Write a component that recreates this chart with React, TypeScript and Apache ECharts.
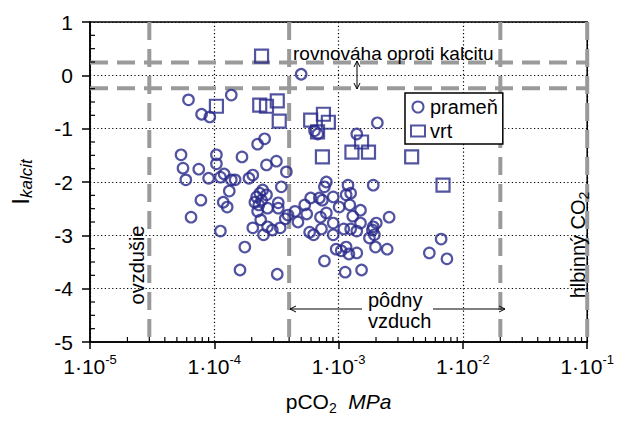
import React, { useEffect, useRef } from "react";
import * as echarts from "echarts";

const FONT = '"Liberation Sans", Arial, Helvetica, sans-serif';
const BLUE = "#28298a";
const GRAY = "#9a9a9a";

// pCO2 [MPa], I_kalcit
const pramenPoints: [number, number][] = [
  [5.0e-4, 0.02], [6.2e-5, -0.46], [1.37e-4, -0.37], [7.9e-5, -0.73], [9.2e-5, -0.78],
  [2.23e-4, -1.29], [2.54e-4, -1.19], [2.05e-3, -0.89], [1.4e-3, -1.1], [6.4e-4, -1.04],
  [6.8e-4, -1.1], [5.4e-5, -1.49], [1.04e-4, -1.49], [1.04e-4, -1.66], [1.67e-4, -1.53],
  [5.6e-5, -1.74], [7.5e-5, -1.76], [5.9e-5, -1.96], [9.0e-5, -1.93], [1.12e-4, -1.91],
  [1.2e-4, -1.85], [1.37e-4, -1.96], [1.47e-4, -1.96], [1.9e-4, -1.93], [2.04e-4, -1.87],
  [2.63e-4, -1.68], [3.16e-4, -1.61], [3.8e-4, -1.81], [3.46e-4, -2.09], [1.32e-4, -2.17],
  [7.8e-5, -2.34], [1.18e-4, -2.38], [1.27e-4, -2.47], [6.5e-5, -2.66], [1.12e-4, -2.92],
  [1.76e-4, -3.22], [1.61e-4, -3.65], [3.21e-4, -3.73], [2.12e-4, -2.38], [2.19e-4, -2.28],
  [2.32e-4, -2.21], [2.45e-4, -2.15], [2.63e-4, -2.24], [2.4e-4, -2.34], [2.28e-4, -2.43],
  [2.23e-4, -2.55], [2.68e-4, -2.49], [3.27e-4, -2.39], [3.27e-4, -2.49], [2.36e-4, -2.71],
  [3.72e-4, -2.69], [3.92e-4, -2.62], [4.46e-4, -2.55], [4.71e-4, -2.75], [5.34e-4, -2.43],
  [2.04e-4, -2.86], [2.49e-4, -2.99], [2.68e-4, -2.84], [2.93e-4, -2.9], [3.39e-4, -2.86],
  [5.54e-4, -2.6], [7.97e-4, -2.0], [7.69e-4, -2.09], [1.19e-3, -2.06], [1.9e-3, -2.06],
  [5.96e-4, -2.3], [7.0e-4, -2.3], [7.4e-4, -2.34], [9.05e-4, -2.28], [1.15e-3, -2.24],
  [1.25e-3, -2.21], [1.01e-3, -2.47], [1.23e-3, -2.43], [1.5e-3, -2.53], [7.15e-4, -2.66],
  [7.97e-4, -2.58], [1.3e-3, -2.64], [9.05e-4, -2.77], [1.5e-3, -2.77], [2.01e-3, -2.77],
  [1.9e-3, -2.84], [2.55e-3, -2.66], [5.85e-4, -2.94], [6.29e-4, -2.99], [7.28e-4, -2.88],
  [9.05e-4, -2.99], [1.1e-3, -2.88], [1.25e-3, -2.88], [1.4e-3, -2.92], [1.87e-3, -2.9],
  [1.94e-3, -2.99], [1.77e-3, -3.05], [9.56e-4, -3.26], [1.05e-3, -3.29], [1.15e-3, -3.22],
  [1.21e-3, -3.35], [1.4e-3, -3.33], [1.98e-3, -3.22], [2.46e-3, -3.26], [7.69e-4, -3.48],
  [1.13e-3, -3.69], [1.53e-3, -3.65], [6.68e-3, -3.07], [5.37e-3, -3.33], [7.44e-3, -3.44],
];

const vrtPoints: [number, number][] = [
  [2.4e-4, 0.36], [1.04e-4, -0.58], [2.32e-4, -0.56], [2.63e-4, -0.58], [3.21e-4, -0.48],
  [3.33e-4, -0.86], [5.96e-4, -0.84], [7.55e-4, -0.73], [8.27e-4, -0.88], [6.77e-4, -1.06],
  [7.41e-4, -1.53], [1.53e-3, -1.25], [1.28e-3, -1.44], [1.74e-3, -1.44], [3.87e-3, -1.53],
  [6.92e-3, -2.06],
];

const xDecadeExponents = [-5, -4, -3, -2];
const minorMantissas = [2, 3, 4, 5, 6, 7, 8, 9];
const yMinorSteps = [0.25, 0.5, 0.75];
const yRange = [-5, 1];
const xRange = [1e-5, 1e-1];
const calciteBand = [0.24, -0.24];
const pco2Limits = [3e-5, 4e-4, 2e-2, 1e-1];

const xMinorTicks: number[] = [];
xDecadeExponents.forEach((e) =>
  minorMantissas.forEach((m) => xMinorTicks.push(m * Math.pow(10, e)))
);
const yMinorTicks: number[] = [];
for (let v = yRange[0]; v < yRange[1]; v++) yMinorSteps.forEach((s) => yMinorTicks.push(v + s));

const dashStyle = { stroke: GRAY, lineWidth: 4, lineDash: [18, 9], fill: null };

function arrowHead(x: number, y: number, dir: "l" | "r" | "u" | "d") {
  const s = 6, w = 3;
  let pts: number[][];
  if (dir === "l") pts = [[x + s, y - w], [x, y], [x + s, y + w]];
  else if (dir === "r") pts = [[x - s, y - w], [x, y], [x - s, y + w]];
  else if (dir === "u") pts = [[x - w, y + s], [x, y], [x + w, y + s]];
  else pts = [[x - w, y - s], [x, y], [x + w, y - s]];
  return { type: "polyline", shape: { points: pts }, style: { stroke: "#000", lineWidth: 1, fill: null }, silent: true, z: 20 };
}

export default function App() {
  const ref = useRef<HTMLDivElement>(null);
  useEffect(() => {
    const chart = echarts.init(ref.current!, null, { renderer: "svg" });
    const option: any = {
      animation: false,
      backgroundColor: "#fff",
      textStyle: { fontFamily: FONT },
      grid: { left: 86, right: 24, top: 22, bottom: 80, show: true, borderColor: "#000", borderWidth: 1.5, backgroundColor: "rgba(0,0,0,0)" },
      legend: {
        data: ["prameň", "vrt"],
        orient: "vertical",
        left: 405,
        top: 93,
        itemWidth: 14,
        itemHeight: 11,
        itemGap: 4,
        padding: [4, 5, 3, 5],
        backgroundColor: "#fff",
        borderColor: "#000",
        borderWidth: 1.5,
        borderRadius: 0,
        selectedMode: false,
        textStyle: { fontSize: 20, fontFamily: FONT, color: "#000" },
        z: 10,
      },
      xAxis: {
        type: "log",
        logBase: 10,
        min: xRange[0],
        max: xRange[1],
        axisLine: { show: true, onZero: false, lineStyle: { color: "#000", width: 1.5 } },
        axisTick: { show: true, inside: false, length: 7, lineStyle: { color: "#000", width: 1.5 } },
        splitLine: { show: true, lineStyle: { color: "#000", width: 1.2, type: [1.2, 2.5] } },
        axisLabel: {
          margin: 11,
          color: "#000",
          formatter: (v: number) => `{a|1·10}{b|${Math.round(Math.log10(v))}}`,
          rich: {
            a: { fontSize: 21, fontFamily: FONT, color: "#000", lineHeight: 26, verticalAlign: "middle" },
            b: { fontSize: 13, fontFamily: FONT, color: "#000", lineHeight: 13, verticalAlign: "top" },
          },
        },
        name: "{a|pCO}{b|2}{a|  }{c|MPa}",
        nameLocation: "middle",
        nameGap: 45,
        nameTextStyle: {
          color: "#000",
          rich: {
            a: { fontSize: 21, fontFamily: FONT, color: "#000", lineHeight: 28, verticalAlign: "middle" },
            b: { fontSize: 14, fontFamily: FONT, color: "#000", lineHeight: 15, verticalAlign: "bottom" },
            c: { fontSize: 21, fontFamily: FONT, color: "#000", fontStyle: "italic", lineHeight: 28, verticalAlign: "middle" },
          },
        },
      },
      yAxis: {
        type: "value",
        min: yRange[0],
        max: yRange[1],
        interval: 1,
        axisLine: { show: true, onZero: false, lineStyle: { color: "#000", width: 1.5 } },
        axisTick: { show: true, inside: false, length: 8, lineStyle: { color: "#000", width: 1.5 } },
        splitLine: { show: true, lineStyle: { color: "#000", width: 1.2, type: [1.2, 2.5] } },
        axisLabel: { margin: 17, fontSize: 21, fontFamily: FONT, color: "#000" },
        name: "{i|I}{s|kalcit}",
        nameLocation: "middle",
        nameRotate: 90,
        nameGap: 55,
        nameTextStyle: {
          color: "#000",
          rich: {
            i: { fontSize: 24, fontFamily: FONT, color: "#000", lineHeight: 30, verticalAlign: "middle" },
            s: { fontSize: 17, fontFamily: FONT, color: "#000", fontStyle: "italic", lineHeight: 17, verticalAlign: "bottom" },
          },
        },
      },
      series: [
        {
          name: "pco2Limits",
          type: "custom",
          coordinateSystem: "cartesian2d",
          silent: true,
          z: 1,
          clip: false,
          data: pco2Limits.map((x) => [x, 0]),
          renderItem: (_p: any, api: any) => {
            const a = api.coord([api.value(0), yRange[1]]);
            const b = api.coord([api.value(0), yRange[0]]);
            return { type: "line", shape: { x1: a[0], y1: a[1], x2: b[0], y2: b[1] }, style: dashStyle };
          },
        },
        {
          name: "calciteBand",
          type: "custom",
          coordinateSystem: "cartesian2d",
          silent: true,
          z: 1,
          clip: false,
          data: calciteBand.map((y) => [xRange[0], y]),
          renderItem: (_p: any, api: any) => {
            const a = api.coord([xRange[0], api.value(1)]);
            const b = api.coord([xRange[1], api.value(1)]);
            return { type: "line", shape: { x1: a[0], y1: a[1], x2: b[0], y2: b[1] }, style: dashStyle };
          },
        },
        {
          name: "xMinor",
          type: "custom",
          coordinateSystem: "cartesian2d",
          silent: true,
          z: 5,
          clip: false,
          data: xMinorTicks.map((v) => [v, yRange[0]]),
          renderItem: (_p: any, api: any) => {
            const p = api.coord([api.value(0), api.value(1)]);
            return { type: "line", shape: { x1: p[0], y1: p[1], x2: p[0], y2: p[1] - 5 }, style: { stroke: "#000", lineWidth: 1.2 } };
          },
        },
        {
          name: "yMinor",
          type: "custom",
          coordinateSystem: "cartesian2d",
          silent: true,
          z: 5,
          clip: false,
          data: yMinorTicks.map((v) => [xRange[0], v]),
          renderItem: (_p: any, api: any) => {
            const p = api.coord([api.value(0), api.value(1)]);
            return { type: "line", shape: { x1: p[0], y1: p[1], x2: p[0] + 5, y2: p[1] }, style: { stroke: "#000", lineWidth: 1.2 } };
          },
        },
        {
          name: "prameň",
          type: "scatter",
          data: pramenPoints,
          symbol: "circle",
          symbolSize: 10.5,
          z: 3,
          itemStyle: { color: "rgba(0,0,0,0)", borderColor: BLUE, borderWidth: 2.2 },
          emphasis: { disabled: true },
        },
        {
          name: "vrt",
          type: "scatter",
          data: vrtPoints,
          symbol: "rect",
          symbolSize: 13,
          z: 3,
          itemStyle: { color: "rgba(0,0,0,0)", borderColor: BLUE, borderWidth: 2.2 },
          emphasis: { disabled: true },
        },
      ],
      graphic: [
        {
          type: "text", x: 293, y: 53, silent: true, z: 20,
          style: { text: "rovnováha oproti kalcitu", fontSize: 19, fontFamily: FONT, fill: "#000", align: "left", verticalAlign: "middle" },
        },
        { type: "line", shape: { x1: 357, y1: 61, x2: 357, y2: 89 }, style: { stroke: "#000", lineWidth: 1 }, silent: true, z: 20 },
        arrowHead(357, 61, "u"),
        arrowHead(357, 89, "d"),
        {
          type: "text", x: 137, y: 265, rotation: Math.PI / 2, silent: true, z: 20,
          style: { text: "ovzdušie", fontSize: 20, fontFamily: FONT, fill: "#000", align: "center", verticalAlign: "middle" },
        },
        {
          type: "text", x: 578, y: 245, rotation: Math.PI / 2, silent: true, z: 20,
          style: {
            text: "{a|hlbinný CO}{b|2}",
            fontSize: 20, fontFamily: FONT, fill: "#000", align: "center", verticalAlign: "middle",
            rich: {
              a: { fontSize: 20, fontFamily: FONT, fill: "#000", lineHeight: 26, verticalAlign: "middle" },
              b: { fontSize: 14, fontFamily: FONT, fill: "#000", lineHeight: 14, verticalAlign: "bottom" },
            },
          },
        },
        {
          type: "text", x: 368, y: 300, silent: true, z: 20,
          style: { text: "pôdny", fontSize: 20, fontFamily: FONT, fill: "#000", align: "left", verticalAlign: "middle" },
        },
        {
          type: "text", x: 368, y: 321, silent: true, z: 20,
          style: { text: "vzduch", fontSize: 20, fontFamily: FONT, fill: "#000", align: "left", verticalAlign: "middle" },
        },
        { type: "line", shape: { x1: 290, y1: 309, x2: 362, y2: 309 }, style: { stroke: "#000", lineWidth: 1 }, silent: true, z: 20 },
        arrowHead(290, 309, "l"),
        { type: "line", shape: { x1: 433, y1: 309, x2: 505, y2: 309 }, style: { stroke: "#000", lineWidth: 1 }, silent: true, z: 20 },
        arrowHead(505, 309, "r"),
      ],
    };
    chart.setOption(option);
    return () => chart.dispose();
  }, []);
  return (
    <div
      ref={ref}
      style={{ position: "fixed", left: 0, top: 0, width: 617, height: 422, background: "#fff" }}
    />
  );
}
